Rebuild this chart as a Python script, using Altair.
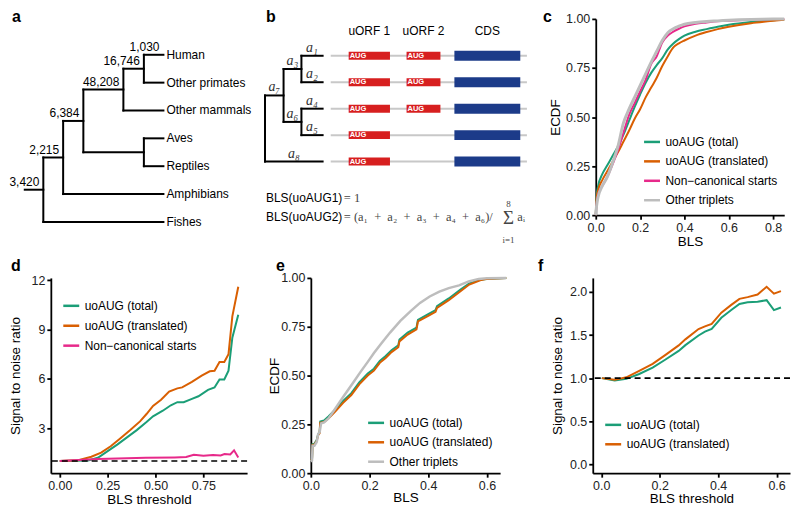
import altair as alt
import pandas as pd

FONT = "Liberation Sans"
SERIF = "Liberation Serif"
GREEN, ORANGE, PINK, GREY = "#1b9e77", "#d95f02", "#e7298a", "#bdbdbd"
RED, NAVY, TRACK = "#d71f1f", "#1c3b89", "#c8c8c8"
EN = "\u2002"

# ---------------- panel a : phylogeny ----------------
a_leaves = ["Human", "Other primates", "Other mammals", "Aves", "Reptiles", "Amphibians", "Fishes"]
a_nodes = ["root", "n2215", "n6384", "n48208", "n16746", "nsauria"]
a_children = [["n2215", "Fishes"], ["n6384", "Amphibians"], ["n48208", "nsauria"],
              ["n16746", "Other mammals"], ["Human", "Other primates"], ["Aves", "Reptiles"]]
a_depth = [34, 54.3, 75, 116, 137, 137]
a_leaf_depth = 157
a_root_start = 15
a_counts = {"root": "3,420", "n2215": "2,215", "n6384": "6,384", "n48208": "48,208",
            "n16746": "16,746", "Human": "1,030"}

# ---------------- panel b : scheme ----------------
b_leaves = ["L0", "L1", "L2", "L3", "L4"]
b_leaf_branch = ["a₁", "a₂", "a₄", "a₅", "a₈"]
b_nodes = ["n3", "n6", "n7", "r"]
b_children = [["L0", "L1"], ["L2", "L3"], ["n3", "n6"], ["n7", "L4"]]
b_depth = [298.3, 298.3, 280, 261]
b_node_branch = ["a₃", "a₆", "a₇", ""]
b_leaf_depth = 320
feat_names = ["uORF 1", "uORF 2", "CDS"]
feat_start = [346.7, 406, 455]
feat_end = [389, 440.7, 522.5]
feat_rows = [[0, 1, 2, 3, 4], [0, 1, 2], [0, 1, 2, 3, 4]]
track_span = [328.3, 529.3]
sum_terms = ["a₁", "a₂", "a₃", "a₄", "a₆"]

# ---------------- panel c : ECDF ----------------
c_names = ["uoAUG (total)", "uoAUG (translated)", "Non−canonical starts", "Other triplets"]
c_x = [0, 0.004, 0.01, 0.03, 0.05, 0.08, 0.1, 0.125, 0.15, 0.175, 0.2, 0.225, 0.25, 0.275,
       0.3, 0.325, 0.35, 0.375, 0.4, 0.45, 0.5, 0.55, 0.6, 0.7, 0.8, 0.85]
c_total = [0, 0.10, 0.145, 0.21, 0.25, 0.31, 0.35, 0.41, 0.48, 0.55, 0.615, 0.675, 0.725, 0.765,
           0.80, 0.845, 0.875, 0.897, 0.915, 0.935, 0.948, 0.96, 0.97, 0.984, 0.993, 0.997]
c_transl = [0, 0.09, 0.125, 0.18, 0.22, 0.28, 0.32, 0.375, 0.43, 0.49, 0.54, 0.60, 0.65, 0.70,
            0.76, 0.81, 0.855, 0.875, 0.89, 0.915, 0.933, 0.948, 0.96, 0.978, 0.99, 0.996]
c_noncan = [0, 0.06, 0.10, 0.15, 0.19, 0.27, 0.33, 0.42, 0.51, 0.57, 0.63, 0.69, 0.77, 0.81,
            0.88, 0.915, 0.935, 0.95, 0.962, 0.975, 0.982, 0.988, 0.991, 0.996, 0.999, 1.0]
c_other = [0, 0.05, 0.09, 0.15, 0.19, 0.28, 0.35, 0.47, 0.54, 0.60, 0.66, 0.72, 0.78, 0.835,
           0.89, 0.93, 0.95, 0.963, 0.973, 0.982, 0.987, 0.99, 0.993, 0.997, 0.999, 1.0]

# ---------------- panel d : signal to noise ----------------
d_names = ["uoAUG (total)", "uoAUG (translated)", "Non−canonical starts"]
d_x_total = [0, 0.148, 0.199, 0.25, 0.30, 0.351, 0.402, 0.453, 0.487, 0.538, 0.58, 0.614, 0.647,
             0.69, 0.724, 0.774, 0.808, 0.834, 0.859, 0.881, 0.901, 0.932]
d_total = [1.0, 1.03, 1.2, 1.6, 2.0, 2.44, 2.88, 3.37, 3.72, 4.06, 4.39, 4.58, 4.58,
           4.78, 4.94, 5.33, 5.47, 5.96, 5.96, 6.5, 8.5, 9.9]
d_x_transl = [0, 0.097, 0.165, 0.216, 0.266, 0.317, 0.368, 0.419, 0.453, 0.487, 0.529, 0.571,
              0.614, 0.639, 0.69, 0.741, 0.783, 0.808, 0.834, 0.859, 0.881, 0.901, 0.932]
d_transl = [1.0, 1.05, 1.26, 1.51, 1.9, 2.39, 2.88, 3.41, 3.86, 4.35, 4.73, 5.23,
            5.42, 5.48, 5.81, 6.2, 6.46, 6.49, 7.02, 7.02, 7.5, 9.8, 11.6]
d_x_noncan = [0, 0.2, 0.45, 0.6, 0.66, 0.7, 0.75, 0.8, 0.84, 0.86, 0.89, 0.91, 0.932]
d_noncan = [1.0, 1.12, 1.2, 1.22, 1.24, 1.38, 1.32, 1.36, 1.34, 1.42, 1.4, 1.65, 1.22]

# ---------------- panel e : ECDF ----------------
e_names = ["uoAUG (total)", "uoAUG (translated)", "Other triplets"]
e_x = [0.0, 0.004, 0.006, 0.012, 0.02, 0.025, 0.03, 0.032, 0.045, 0.06, 0.083, 0.11, 0.138,
       0.165, 0.194, 0.215, 0.235, 0.255, 0.275, 0.298, 0.302, 0.33, 0.36, 0.365, 0.4, 0.425,
       0.43, 0.47, 0.51, 0.54, 0.577, 0.6, 0.666]
e_total = [0.065, 0.07, 0.15, 0.15, 0.17, 0.20, 0.21, 0.265, 0.27, 0.29, 0.325, 0.37, 0.41,
           0.465, 0.51, 0.535, 0.575, 0.60, 0.63, 0.655, 0.685, 0.72, 0.745, 0.785, 0.815, 0.835,
           0.855, 0.895, 0.94, 0.972, 0.99, 0.995, 1.0]
e_transl = [0.065, 0.07, 0.145, 0.145, 0.165, 0.195, 0.205, 0.258, 0.262, 0.28, 0.315, 0.36, 0.40,
            0.455, 0.50, 0.525, 0.565, 0.59, 0.62, 0.645, 0.675, 0.71, 0.737, 0.777, 0.806, 0.826,
            0.846, 0.886, 0.932, 0.966, 0.988, 0.995, 1.0]
e_x_other = [0.0, 0.004, 0.006, 0.012, 0.02, 0.025, 0.03, 0.035, 0.045, 0.06, 0.083, 0.11, 0.144,
             0.17, 0.194, 0.215, 0.238, 0.27, 0.305, 0.34, 0.372, 0.405, 0.438, 0.47, 0.505, 0.538,
             0.572, 0.6, 0.666]
e_other = [0.06, 0.065, 0.14, 0.14, 0.16, 0.2, 0.21, 0.255, 0.26, 0.28, 0.33, 0.39, 0.463,
           0.52, 0.57, 0.615, 0.66, 0.72, 0.78, 0.83, 0.872, 0.905, 0.93, 0.948, 0.962, 0.982,
           0.995, 0.998, 1.0]

# ---------------- panel f : signal to noise ----------------
f_names = ["uoAUG (total)", "uoAUG (translated)"]
f_x = [0.002, 0.046, 0.086, 0.13, 0.176, 0.22, 0.265, 0.288, 0.333, 0.355, 0.378, 0.411, 0.445,
       0.473, 0.501, 0.535, 0.566, 0.591, 0.615]
f_total = [1.0, 0.974, 0.992, 1.048, 1.123, 1.216, 1.316, 1.383, 1.495, 1.54, 1.57, 1.70, 1.79,
           1.86, 1.88, 1.886, 1.905, 1.79, 1.82]
f_transl = [1.0, 0.98, 1.01, 1.085, 1.165, 1.27, 1.38, 1.45, 1.57, 1.6, 1.63, 1.76, 1.85,
            1.92, 1.94, 1.97, 2.06, 1.98, 2.01]

H1, H2 = 197, 196


def tree_layout(leaves, nodes, children, depth, leaf_depth):
    ypos = {n: i for i, n in enumerate(leaves)}
    xpos = {n: leaf_depth for n in leaves}
    kids = dict(zip(nodes, children))
    for n, d in zip(nodes, depth):
        xpos[n] = d

    def gety(n):
        if n not in ypos:
            ypos[n] = sum(gety(c) for c in kids[n]) / len(kids[n])
        return ypos[n]

    for n in nodes:
        gety(n)
    parent = {c: p for p, cs in kids.items() for c in cs}
    segs = []
    for n, cs in kids.items():
        ys = [ypos[c] for c in cs]
        segs.append({"x": xpos[n], "x2": xpos[n], "y": min(ys), "y2": max(ys)})
    for c, p in parent.items():
        segs.append({"x": xpos[p], "x2": xpos[c], "y": ypos[c], "y2": ypos[c]})
    return xpos, ypos, parent, segs


def panel_label(letter, dx, dy):
    return alt.Chart(alt.Data(values=[{"t": letter}])).mark_text(
        align="left", baseline="alphabetic", font=FONT, fontSize=16, fontWeight="bold", color="black"
    ).encode(x=alt.value(dx), y=alt.value(dy), text="t:N")


def spacer(w, h):
    return alt.Chart(alt.Data(values=[{"v": 0}])).mark_point(opacity=0).encode(
        x=alt.X("v:Q", axis=None), y=alt.Y("v:Q", axis=None)).properties(width=w, height=h)


# ---- build panel a ----
ax, ay, apar, asegs = tree_layout(a_leaves, a_nodes, a_children, a_depth, a_leaf_depth)
asegs.append({"x": a_root_start, "x2": ax["root"], "y": ay["root"], "y2": ay["root"]})
xa = alt.Scale(domain=[41.7, 258], nice=False, zero=False)
ya = alt.Scale(domain=[-1.288, 5.758], reverse=True, nice=False, zero=False)
a_edges = alt.Chart(pd.DataFrame(asegs)).mark_rule(color="black", strokeWidth=2, strokeCap="square").encode(
    x=alt.X("x:Q", scale=xa, axis=None), x2="x2:Q", y=alt.Y("y:Q", scale=ya, axis=None), y2="y2:Q")
a_count_df = pd.DataFrame([{"x": ax[n], "y": ay[n], "t": t} for n, t in a_counts.items()])
a_count_txt = alt.Chart(a_count_df).mark_text(align="right", baseline="bottom", dx=-4, dy=-1,
                                             font=FONT, fontSize=12, color="black").encode(
    x=alt.X("x:Q", scale=xa, axis=None), y=alt.Y("y:Q", scale=ya, axis=None), text="t:N")
a_leaf_df = pd.DataFrame([{"x": a_leaf_depth, "y": i, "t": n} for i, n in enumerate(a_leaves)])
a_leaf_txt = alt.Chart(a_leaf_df).mark_text(align="left", baseline="middle", dx=3,
                                           font=FONT, fontSize=12, color="black").encode(
    x=alt.X("x:Q", scale=xa, axis=None), y=alt.Y("y:Q", scale=ya, axis=None), text="t:N")
panel_a = alt.layer(a_edges, a_count_txt, a_leaf_txt, panel_label("a", -39, 3)).properties(width=212, height=H1)

# ---- build panel b ----
bx, by, bpar, bsegs = tree_layout(b_leaves, b_nodes, b_children, b_depth, b_leaf_depth)
xb = alt.Scale(domain=[261, 540], nice=False, zero=False)
yb = alt.Scale(domain=[-1.393, 6.025], reverse=True, nice=False, zero=False)
XB = alt.X("x:Q", scale=xb, axis=None)
YB = alt.Y("y:Q", scale=yb, axis=None)
b_edges = alt.Chart(pd.DataFrame(bsegs)).mark_rule(color="black", strokeWidth=2, strokeCap="square").encode(
    x=XB, x2="x2:Q", y=YB, y2="y2:Q")
blab = []
for n, t in list(zip(b_leaves, b_leaf_branch)) + list(zip(b_nodes, b_node_branch)):
    if t and n in bpar:
        blab.append({"x": (bx[n] + bx[bpar[n]]) / 2, "y": by[n], "t": t})
b_lab_txt = alt.Chart(pd.DataFrame(blab)).mark_text(baseline="bottom", dy=-1, font=SERIF, fontStyle="italic",
                                                  fontSize=14, color="#333").encode(x=XB, y=YB, text="t:N")
tracks = pd.DataFrame([{"x": track_span[0], "x2": track_span[1], "y": i} for i in range(len(b_leaves))])
b_tracks = alt.Chart(tracks).mark_rule(color=TRACK, strokeWidth=2).encode(x=XB, x2="x2:Q", y=YB)
feats = pd.DataFrame([{"x": s, "x2": e, "y": r, "f": n}
                      for n, s, e, rows in zip(feat_names, feat_start, feat_end, feat_rows) for r in rows])
b_uorf = alt.Chart(feats).transform_filter(alt.datum.f != "CDS").mark_rule(
    color=RED, strokeWidth=8, strokeCap="butt").encode(x=XB, x2="x2:Q", y=YB)
b_cds = alt.Chart(feats).transform_filter(alt.datum.f == "CDS").mark_rule(
    color=NAVY, strokeWidth=10, strokeCap="butt").encode(x=XB, x2="x2:Q", y=YB)
b_aug = alt.Chart(feats).transform_filter(alt.datum.f != "CDS").transform_calculate(t="'AUG'").mark_text(
    align="left", baseline="middle", dx=1, font=FONT, fontSize=7.5, fontWeight="bold", color="white").encode(
    x=XB, y=YB, text="t:N")
heads = pd.DataFrame([{"x": (s + e) / 2, "y": -0.93, "t": n} for n, s, e in zip(feat_names, feat_start, feat_end)])
b_heads = alt.Chart(heads).mark_text(baseline="middle", font=FONT, fontSize=12, color="black").encode(
    x=XB, y=YB, text="t:N")
sum_text = "= (" + (EN + "+" + EN).join(sum_terms) + ")/"
form_sans = pd.DataFrame([{"x": 262, "y": 5.37, "t": "BLS(uoAUG1)"}, {"x": 262, "y": 6.1, "t": "BLS(uoAUG2)"}])
form_math = pd.DataFrame([{"x": 341.7, "y": 5.37, "t": "= 1"},
                          {"x": 341.7, "y": 6.1, "t": sum_text},
                          {"x": 519.5, "y": 6.1, "t": "aᵢ"}])
form_small = pd.DataFrame([{"x": 510.5, "y": 5.6, "t": "8"}, {"x": 510.5, "y": 6.97, "t": "i=1"}])
form_sigma = pd.DataFrame([{"x": 510.5, "y": 6.15, "t": "Σ"}])
b_f1 = alt.Chart(form_sans).mark_text(align="left", baseline="middle", font=FONT, fontSize=12,
                                      color="black").encode(x=XB, y=YB, text="t:N")
b_f2 = alt.Chart(form_math).mark_text(align="left", baseline="middle", font=SERIF, fontSize=12.5,
                                      color="#444").encode(x=XB, y=YB, text="t:N")
b_f3 = alt.Chart(form_small).mark_text(align="center", baseline="middle", font=SERIF, fontSize=9,
                                       color="#444").encode(x=XB, y=YB, text="t:N")
b_f4 = alt.Chart(form_sigma).mark_text(align="center", baseline="middle", font=SERIF, fontSize=19,
                                       color="#444").encode(x=XB, y=YB, text="t:N")
panel_b = alt.layer(b_edges, b_lab_txt, b_tracks, b_uorf, b_cds, b_aug, b_heads, b_f1, b_f2, b_f3, b_f4,
                    panel_label("b", 1, 3)).properties(width=273.4, height=H1)


def line_panel(names, colors, widths, xs, ys, xdom, ydom, xaxis, yaxis, w, h, leg_x, leg_y,
               letter, ldx, ldy, refline=False, row_pad=3.5, interp="linear"):
    rows = []
    for n, xv, yv in zip(names, xs, ys):
        rows += [{"x": a, "y": b, "s": n} for a, b in zip(xv, yv)]
    df = pd.DataFrame(rows)
    xsc = alt.Scale(domain=xdom, nice=False, zero=False)
    ysc = alt.Scale(domain=ydom, nice=False, zero=False)
    color = alt.Color("s:N", scale=alt.Scale(domain=names, range=colors),
                      legend=alt.Legend(orient="none", legendX=leg_x, legendY=leg_y, title=None,
                                        symbolType="stroke", symbolSize=256, symbolStrokeWidth=2.5,
                                        labelFont=FONT, labelFontSize=12, labelColor="black",
                                        rowPadding=row_pad, padding=0, labelOffset=4))
    layers = []
    for n, sw in zip(names, widths):
        layers.append(alt.Chart(df).transform_filter(alt.datum.s == n).mark_line(
            strokeWidth=sw, interpolate=interp).encode(
            x=alt.X("x:Q", scale=xsc, axis=xaxis), y=alt.Y("y:Q", scale=ysc, axis=yaxis), color=color))
    if refline:
        layers.append(alt.Chart(alt.Data(values=[{"y": 1}])).mark_rule(
            color="black", strokeDash=[6, 4], strokeWidth=1.6).encode(
            y=alt.Y("y:Q", scale=ysc, axis=yaxis)))
    layers.append(panel_label(letter, ldx, ldy))
    return alt.layer(*layers).properties(width=w, height=h)


def xaxis(vals, fmt, title, tpad):
    return alt.Axis(values=vals, format=fmt, title=title, titlePadding=tpad, labelFlush=False,
                    labelOverlap=False, labelPadding=2)


def yaxis(vals, fmt, title, tpad):
    return alt.Axis(values=vals, format=fmt, title=title, titlePadding=tpad, labelPadding=2,
                    labelOverlap=False)


panel_c = line_panel(c_names, [GREEN, ORANGE, PINK, GREY], [2, 2, 2, 3],
                     [c_x] * 4, [c_total, c_transl, c_noncan, c_other], [0, 0.85], [0, 1],
                     xaxis([0, 0.2, 0.4, 0.6, 0.8], ".1f", "BLS", 1),
                     yaxis([0, 0.25, 0.5, 0.75, 1], ".2f", "ECDF", 3),
                     189.2, H1, 47, 114, "c", -53, 3, interp="monotone")
panel_d = line_panel(d_names, [GREEN, ORANGE, PINK], [2, 2, 2],
                     [d_x_total, d_x_transl, d_x_noncan], [d_total, d_transl, d_noncan],
                     [-0.0466, 0.978], [0.26, 12.14],
                     xaxis([0, 0.25, 0.5, 0.75], ".2f", "BLS threshold", 0.5),
                     yaxis([3, 6, 9, 12], "d", "Signal to noise ratio", 9),
                     197, H2, 11, 18.5, "d", -40, -6.5, refline=True, row_pad=4)
panel_e = line_panel(e_names, [GREEN, ORANGE, GREY], [2, 2, 2.5],
                     [e_x, e_x, e_x_other], [e_total, e_transl, e_other], [0, 0.645], [0, 1],
                     xaxis([0, 0.2, 0.4, 0.6], ".1f", "BLS", -1),
                     yaxis([0, 0.25, 0.5, 0.75, 1], ".2f", "ECDF", -1),
                     190, H2, 56, 136, "e", -35, -6.5)
panel_f = line_panel(f_names, [GREEN, ORANGE], [2, 2],
                     [f_x, f_x], [f_total, f_transl], [-0.029, 0.646], [-0.103, 2.163],
                     xaxis([0, 0.2, 0.4, 0.6], ".1f", "BLS threshold", 0),
                     yaxis([0, 0.5, 1, 1.5, 2], ".1f", "Signal to noise ratio", 5),
                     198, H2, 11, 138, "f", -55, -6.5, refline=True)

row1 = alt.hconcat(panel_a, spacer(2.8, H1), panel_b, spacer(57.8, H1), panel_c,
                   spacing=0, bounds="flush").resolve_scale(
    x="independent", y="independent", color="independent")
row2 = alt.hconcat(panel_d, spacer(64, H2), panel_e, spacer(93, H2), panel_f,
                   spacing=0, bounds="flush").resolve_scale(
    x="independent", y="independent", color="independent")

chart = alt.vconcat(row1, row2, spacing=10, padding=0).resolve_scale(
    x="independent", y="independent", color="independent"
).configure_view(stroke=None).configure_axis(
    domainColor="black", domainWidth=1.8, tickColor="black", tickWidth=1.8, tickSize=4,
    labelFont=FONT, labelFontSize=12.5, labelColor="#222", titleFont=FONT, titleFontSize=13.5,
    titleFontWeight="normal", titleColor="black", grid=False
)

chart.save("out.html", embed_options={"renderer": "svg", "actions": False})
